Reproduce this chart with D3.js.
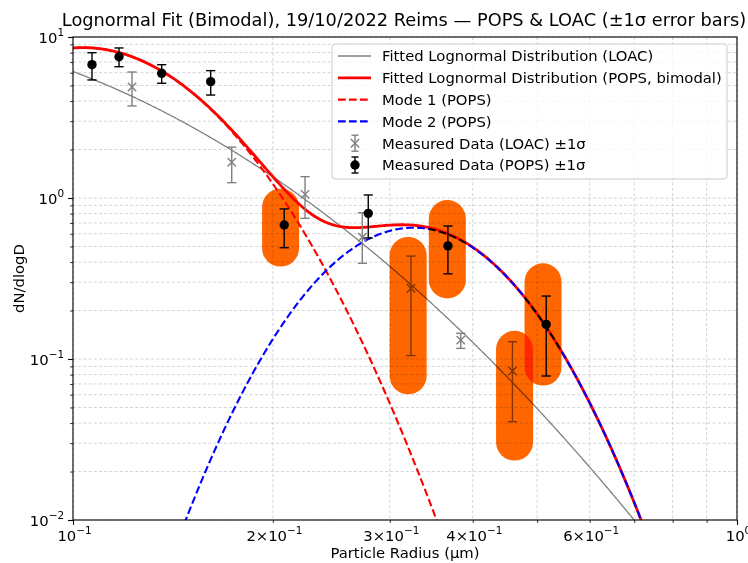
<!DOCTYPE html>
<html>
<head>
<meta charset="utf-8">
<script src="https://cdn.jsdelivr.net/npm/d3@7"></script>
<style>
  html, body { margin: 0; padding: 0; background: #fff; }
  svg { display: block; font-family: "DejaVu Sans", sans-serif; }
</style>
</head>
<body>
<svg id="chart" width="748" height="563"></svg>
<script>
// ---------- DATA ----------
const titleText = "Lognormal Fit (Bimodal), 19/10/2022 Reims — POPS & LOAC (±1σ error bars)";
const xLabelText = "Particle Radius (µm)";
const yLabelText = "dN/dlogD";

// POPS measurements
const popsR   = [0.1068, 0.1173, 0.136, 0.1612, 0.208, 0.2784, 0.367, 0.516];
const popsY   = [6.73, 7.54, 5.95, 5.28, 0.68, 0.803, 0.504, 0.164];
const popsLo  = [5.41, 6.54, 5.16, 4.36, 0.491, 0.565, 0.338, 0.0784];
const popsHi  = [7.99, 8.55, 6.73, 6.18, 0.855, 1.044, 0.67, 0.246];

// LOAC measurements
const loacR   = [0.1227, 0.1734, 0.2236, 0.2727, 0.3228, 0.3837, 0.459];
const loacY   = [4.89, 1.667, 1.054, 0.57, 0.275, 0.131, 0.0842];
const loacLo  = [3.73, 1.245, 0.748, 0.393, 0.105, 0.1164, 0.0408];
const loacHi  = [6.06, 2.07, 1.357, 0.81, 0.436, 0.1445, 0.128];

// Fitted lognormal parameters [N, median radius, geometric sigma]
const loacFit   = [9.71, 0.0421, 2.11];
const popsMode1 = [3.12, 0.1035, 1.396];
const popsMode2 = [0.1944, 0.3256, 1.314];

// Highlight capsules (annotations): centre radius, lower y, upper y
const hlR  = [0.2054, 0.3197, 0.3662, 0.4624, 0.5104];
const hlLo = [0.375, 0.0603, 0.2376, 0.0234, 0.0684];
const hlHi = [1.143, 0.5733, 0.9718, 0.1497, 0.3929];

// Axis ticks
const xMajor = [0.1, 1];
const xMinor = [0.2, 0.3, 0.4, 0.5, 0.6, 0.7, 0.8, 0.9];
const xTickVals   = [0.1, 0.2, 0.3, 0.4, 0.6, 1];
const xTickLabels = ["10^−1", "2×10^−1", "3×10^−1", "4×10^−1", "6×10^−1", "10^0"];
const yMajor = [0.01, 0.1, 1, 10];
const yTickLabels = ["10^−2", "10^−1", "10^0", "10^1"];
const yMinorMult = [2, 3, 4, 5, 6, 7, 8, 9];
const yMinorDecades = [0.01, 0.1, 1];

const legendLabels = [
  "Fitted Lognormal Distribution (LOAC)",
  "Fitted Lognormal Distribution (POPS, bimodal)",
  "Mode 1 (POPS)",
  "Mode 2 (POPS)",
  "Measured Data (LOAC) ±1σ",
  "Measured Data (POPS) ±1σ"
];

// ---------- LAYOUT ----------
const W = 748, H = 563;
const L = 73, R = 737, T = 37, B = 520;
const FS = 14.8, FSsup = 10.4, FStitle = 17.8;
const svg = d3.select("#chart");

const x = d3.scaleLog().domain([0.1, 1]).range([L, R]);
const y = d3.scaleLog().domain([0.01, 10]).range([B, T]);

const yMinor = [];
yMinorDecades.forEach(d => yMinorMult.forEach(m => yMinor.push(d * m)));

// clip
svg.append("defs").append("clipPath").attr("id", "plotclip")
  .append("rect").attr("x", L).attr("y", T).attr("width", R - L).attr("height", B - T);

// ---------- GRID ----------
const grid = svg.append("g").attr("stroke", "#c8c8c8").attr("stroke-width", 0.8)
  .attr("stroke-dasharray", "3,2.2");
grid.selectAll(".gx").data(xMajor.concat(xMinor)).enter().append("line")
  .attr("x1", d => x(d)).attr("x2", d => x(d)).attr("y1", T).attr("y2", B);
grid.selectAll(".gy").data(yMajor.concat(yMinor)).enter().append("line")
  .attr("y1", d => y(d)).attr("y2", d => y(d)).attr("x1", L).attr("x2", R);

// ---------- CURVES ----------
function lognormal(p) {
  const [N, rm, sg] = p;
  const ls = Math.log10(sg);
  return r => N / (Math.sqrt(2 * Math.PI) * ls) *
    Math.exp(-Math.pow(Math.log10(r / rm), 2) / (2 * ls * ls));
}
const fL = lognormal(loacFit), f1 = lognormal(popsMode1), f2 = lognormal(popsMode2);
const rs = d3.range(0, 601).map(i => Math.pow(10, -1 + i / 600));

const line = d3.line().x(d => x(d[0])).y(d => y(Math.max(d[1], 1e-6)));
const curves = svg.append("g").attr("clip-path", "url(#plotclip)").attr("fill", "none");

curves.append("path").datum(rs.map(r => [r, fL(r)])).attr("d", line)
  .attr("stroke", "#808080").attr("stroke-width", 1.3);
curves.append("path").datum(rs.map(r => [r, f1(r) + f2(r)])).attr("d", line)
  .attr("stroke", "#ff0000").attr("stroke-width", 2.8);
curves.append("path").datum(rs.map(r => [r, f1(r)])).attr("d", line)
  .attr("stroke", "#ff0000").attr("stroke-width", 2.1).attr("stroke-dasharray", "7.7,3.3");
curves.append("path").datum(rs.map(r => [r, f2(r)])).attr("d", line)
  .attr("stroke", "#0000ff").attr("stroke-width", 2.1).attr("stroke-dasharray", "7.7,3.3");

// ---------- ERROR BARS ----------
const cap = 4.6;
function errorBars(g, xs, ys, lo, hi, color) {
  const sel = g.selectAll("g.eb").data(xs.map((r, i) => ({ r, v: ys[i], lo: lo[i], hi: hi[i] })))
    .enter().append("g").attr("stroke", color).attr("stroke-width", 1.4);
  sel.append("line").attr("x1", d => x(d.r)).attr("x2", d => x(d.r))
    .attr("y1", d => y(d.lo)).attr("y2", d => y(d.hi));
  sel.append("line").attr("x1", d => x(d.r) - cap).attr("x2", d => x(d.r) + cap)
    .attr("y1", d => y(d.lo)).attr("y2", d => y(d.lo));
  sel.append("line").attr("x1", d => x(d.r) - cap).attr("x2", d => x(d.r) + cap)
    .attr("y1", d => y(d.hi)).attr("y2", d => y(d.hi));
  return sel;
}
const mk = 4.2;
const loacG = svg.append("g");
errorBars(loacG, loacR, loacY, loacLo, loacHi, "#808080")
  .append("path").attr("fill", "none").attr("stroke-width", 1.4)
  .attr("d", d => {
    const cx = x(d.r), cy = y(d.v);
    return `M${cx - mk},${cy - mk}L${cx + mk},${cy + mk}M${cx - mk},${cy + mk}L${cx + mk},${cy - mk}`;
  });

const popsG = svg.append("g");
errorBars(popsG, popsR, popsY, popsLo, popsHi, "#000000")
  .append("circle").attr("cx", d => x(d.r)).attr("cy", d => y(d.v)).attr("r", 4.7)
  .attr("fill", "#000").attr("stroke", "none");

// ---------- AXES ----------
const axG = svg.append("g").attr("font-family", "DejaVu Sans");
axG.append("rect").attr("x", L).attr("y", T).attr("width", R - L).attr("height", B - T)
  .attr("fill", "none").attr("stroke", "#000").attr("stroke-width", 1.1);

const xAxMaj = d3.axisBottom(x).tickValues(xMajor).tickSize(4.9).tickFormat("");
const xAxMin = d3.axisBottom(x).tickValues(xMinor).tickSize(2.8).tickFormat("");
const yAxMaj = d3.axisLeft(y).tickValues(yMajor).tickSize(4.9).tickFormat("");
const yAxMin = d3.axisLeft(y).tickValues(yMinor).tickSize(2.8).tickFormat("");
[[xAxMaj, `translate(0,${B})`, 1.1], [xAxMin, `translate(0,${B})`, 0.85],
 [yAxMaj, `translate(${L},0)`, 1.1], [yAxMin, `translate(${L},0)`, 0.85]].forEach(([a, tr, sw]) => {
  const g = axG.append("g").attr("transform", tr).call(a);
  g.select(".domain").remove();
  g.selectAll(".tick line").attr("stroke", "#000").attr("stroke-width", sw);
});

function mathLabel(sel, lab) {
  const [base, exp] = lab.split("^");
  sel.append("tspan").text(base);
  sel.append("tspan").attr("dy", -7).attr("font-size", FSsup).text(exp);
}
xTickVals.forEach((v, i) => {
  const t = axG.append("text").attr("x", x(v) + 1.5).attr("y", 540.5)
    .attr("text-anchor", "middle").attr("font-size", FS).attr("fill", "#000");
  mathLabel(t, xTickLabels[i]);
});
yMajor.forEach((v, i) => {
  const t = axG.append("text").attr("x", 64).attr("y", y(v) + 5.8)
    .attr("text-anchor", "end").attr("font-size", FS).attr("fill", "#000");
  mathLabel(t, yTickLabels[i]);
});

// labels
svg.append("text").attr("x", (L + R) / 2).attr("y", 558).attr("text-anchor", "middle")
  .attr("font-size", FS).text(xLabelText);
svg.append("text").attr("transform", `translate(24,${(T + B) / 2}) rotate(-90)`)
  .attr("text-anchor", "middle").attr("font-size", FS).text(yLabelText);
svg.append("text").attr("x", 404).attr("y", 25.5).attr("text-anchor", "middle")
  .attr("font-size", FStitle).text(titleText);

// ---------- LEGEND ----------
const lg = svg.append("g");
lg.append("rect").attr("x", 332).attr("y", 44).attr("width", 395).attr("height", 135)
  .attr("rx", 3).attr("fill", "#fff").attr("fill-opacity", 0.8)
  .attr("stroke", "#cccccc").attr("stroke-width", 1);
const rowY = i => 56 + i * 21.8;
const hx0 = 338, hx1 = 371, hxc = 355;
legendLabels.forEach((lab, i) => {
  const yy = rowY(i);
  if (i === 0) lg.append("line").attr("x1", hx0).attr("x2", hx1).attr("y1", yy).attr("y2", yy)
    .attr("stroke", "#808080").attr("stroke-width", 1.3);
  if (i === 1) lg.append("line").attr("x1", hx0).attr("x2", hx1).attr("y1", yy).attr("y2", yy)
    .attr("stroke", "#ff0000").attr("stroke-width", 2.8);
  if (i === 2) lg.append("line").attr("x1", hx0).attr("x2", hx1).attr("y1", yy).attr("y2", yy)
    .attr("stroke", "#ff0000").attr("stroke-width", 2.1).attr("stroke-dasharray", "7.7,3.3");
  if (i === 3) lg.append("line").attr("x1", hx0).attr("x2", hx1).attr("y1", yy).attr("y2", yy)
    .attr("stroke", "#0000ff").attr("stroke-width", 2.1).attr("stroke-dasharray", "7.7,3.3");
  if (i === 4 || i === 5) {
    const c = i === 4 ? "#808080" : "#000";
    const g = lg.append("g").attr("stroke", c).attr("stroke-width", 1.4);
    g.append("line").attr("x1", hxc).attr("x2", hxc).attr("y1", yy - 8).attr("y2", yy + 8);
    g.append("line").attr("x1", hxc - 3.5).attr("x2", hxc + 3.5).attr("y1", yy - 8).attr("y2", yy - 8);
    g.append("line").attr("x1", hxc - 3.5).attr("x2", hxc + 3.5).attr("y1", yy + 8).attr("y2", yy + 8);
    if (i === 4) g.append("path").attr("fill", "none")
      .attr("d", `M${hxc - mk},${yy - mk}L${hxc + mk},${yy + mk}M${hxc - mk},${yy + mk}L${hxc + mk},${yy - mk}`);
    else g.append("circle").attr("cx", hxc).attr("cy", yy).attr("r", 4.7).attr("fill", "#000").attr("stroke", "none");
  }
  lg.append("text").attr("x", 382).attr("y", yy + 5.3).attr("font-size", FS).text(lab);
});

// ---------- HIGHLIGHT CAPSULES ----------
const hw = 18.5;
svg.append("g").selectAll("rect.hl").data(hlR.map((r, i) => ({ r, lo: hlLo[i], hi: hlHi[i] })))
  .enter().append("rect")
  .attr("x", d => x(d.r) - hw).attr("width", 2 * hw)
  .attr("y", d => y(d.hi)).attr("height", d => y(d.lo) - y(d.hi))
  .attr("rx", hw).attr("ry", hw)
  .attr("fill", "#ff6600")
  .style("mix-blend-mode", "multiply");
</script>
</body>
</html>
